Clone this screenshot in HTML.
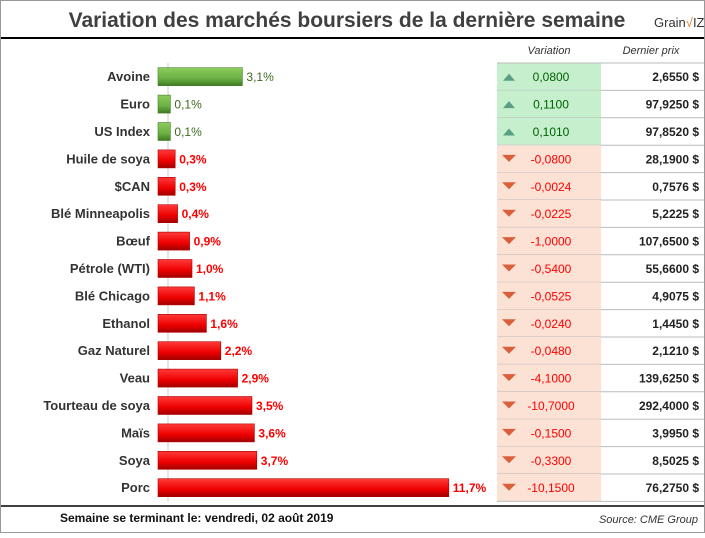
<!DOCTYPE html>
<html><head><meta charset="utf-8"><style>
body{margin:0;background:#fff;font-family:"Liberation Sans",sans-serif}
svg text{font-family:"Liberation Sans",sans-serif}
</style></head><body>
<svg id="c" width="705" height="533" xmlns="http://www.w3.org/2000/svg">
<defs>
<linearGradient id="gr" x1="0" y1="0" x2="0" y2="1"><stop offset="0" stop-color="#ff3a3a"/><stop offset="0.6" stop-color="#ee0000"/><stop offset="1" stop-color="#a00000"/></linearGradient>
<linearGradient id="gg" x1="0" y1="0" x2="0" y2="1"><stop offset="0" stop-color="#8ccc5c"/><stop offset="0.6" stop-color="#6bb043"/><stop offset="1" stop-color="#3f7a22"/></linearGradient>
</defs>
<rect x="0.5" y="0.5" width="704" height="532" fill="#fff" stroke="#999"/>
<text x="347" y="27" text-anchor="middle" font-size="21" font-weight="bold" fill="#404040">Variation des marchés boursiers de la dernière semaine</text>
<text x="654" y="27" font-size="13" fill="#333">Grain<tspan fill="#e87722">√</tspan>IZ</text>
<line x1="1" y1="38" x2="704" y2="38" stroke="#000" stroke-width="2"/>
<text x="549" y="54" text-anchor="middle" font-size="11" font-style="italic" fill="#333">Variation</text>
<text x="651" y="54" text-anchor="middle" font-size="11" font-style="italic" fill="#333">Dernier prix</text>
<g id="rows"></g>
<line x1="1" y1="506" x2="704" y2="506" stroke="#000" stroke-width="1.5"/>
<text x="60" y="522" font-size="12" font-weight="bold" fill="#111">Semaine se terminant le:  vendredi, 02 août 2019</text>
<text x="698" y="523" text-anchor="end" font-size="11" font-style="italic" fill="#333">Source: CME Group</text>
</svg>
<script>
const categories=["Avoine","Euro","US Index","Huile de soya","$CAN","Blé Minneapolis","Bœuf","Pétrole (WTI)","Blé Chicago","Ethanol","Gaz Naturel","Veau","Tourteau de soya","Maïs","Soya","Porc"];
const pctChange=[3.1,0.1,0.1,-0.3,-0.3,-0.4,-0.9,-1.0,-1.1,-1.6,-2.2,-2.9,-3.5,-3.6,-3.7,-11.7];
const variation=[0.08,0.11,0.101,-0.08,-0.0024,-0.0225,-1,-0.54,-0.0525,-0.024,-0.048,-4.1,-10.7,-0.15,-0.33,-10.15];
const lastPrice=[2.655,97.925,97.852,28.19,0.7576,5.2225,107.65,55.66,4.9075,1.445,2.121,139.625,292.4,3.995,8.5025,76.275];
const NS="http://www.w3.org/2000/svg";
const g=document.getElementById('rows');
const x0=158, rowTop=63, rowH=27.4;
function bw(v){return Math.max(7,10+24*Math.abs(v));}
function yc(i){return rowTop+rowH*i+rowH/2;}
function fr(n,d){return n.toFixed(d).replace('.',',');}
function el(t,a,txt){const e=document.createElementNS(NS,t);for(const k in a)e.setAttribute(k,a[k]);if(txt!==undefined)e.textContent=txt;g.appendChild(e);return e;}
categories.forEach((c,i)=>{
 const y=yc(i),up=pctChange[i]>=0,col=up?'#3d6b1e':'#ff0000';
 let t=el('text',{x:150,y:y+4.5,'text-anchor':'end','font-size':13,'font-weight':'bold',fill:'#333'},c);
 
 
 const w=bw(pctChange[i]);
 let r=el('rect',{x:x0,y:y-9,width:w,height:18,fill:up?'url(#gg)':'url(#gr)',stroke:up?'#4a7f2a':'#b00000','stroke-width':0.6});
 
 
 let l=el('text',{x:x0+w+4,y:y+4.5,'font-size':12,'font-weight':up?'normal':'bold',fill:col},fr(Math.abs(pctChange[i]),1)+'%');
 
 
 const top=rowTop+rowH*i;
 let bg=el('rect',{x:497,y:top,width:104,height:rowH,fill:variation[i]>=0?'#c6efce':'#fbe2d5'});
 
 
 let ln=el('line',{x1:497,y1:top+rowH,x2:704,y2:top+rowH,stroke:'#bbb'});
 
 
 let ar=el('path',{d:variation[i]>=0?`M503 ${y+4}L509 ${y-3}L515 ${y+4}Z`:`M502 ${y-4}L516 ${y-4}L509 ${y+3}Z`,fill:variation[i]>=0?'#5a9e84':'#d9603b'});
 
 
 let vt=el('text',{x:551,y:y+4.5,'text-anchor':'middle','font-size':12,fill:variation[i]>=0?'#006100':'#ff0000'},fr(variation[i],4));
 
 
 let pt=el('text',{x:699,y:y+4.5,'text-anchor':'end','font-size':12,'font-weight':'bold',fill:'#222'},fr(lastPrice[i],4)+' $');
 
 
});
let tl=el('line',{x1:497,y1:rowTop,x2:704,y2:rowTop,stroke:'#bbb'});


let ax=el('line',{x1:x0+10,y1:rowTop,x2:x0+10,y2:rowTop+rowH*16,stroke:'#ccc'});


g.insertBefore(ax,g.firstChild);
</script>
</body></html>
